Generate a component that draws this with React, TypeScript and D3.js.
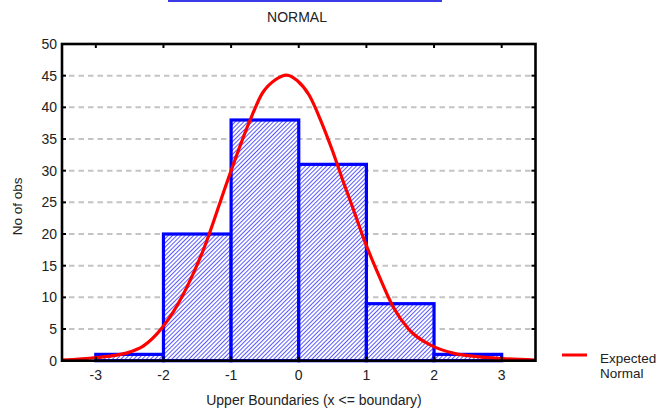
import React from "react";
import * as d3 from "d3";

const binStarts = [-3, -2, -1, 0, 1, 2];
const binEnds = [-2, -1, 0, 1, 2, 3];
const counts = [1, 20, 38, 31, 9, 1];

const curveX = [-3.5, -3.0, -2.55, -2.3, -2.02, -1.85, -1.65, -1.41, -1.05, -0.73, -0.54, -0.34, -0.18, -0.02, 0.155, 0.33, 0.5, 0.65, 0.8, 0.97, 1.19, 1.39, 1.63, 1.98, 2.28, 2.67, 3.06, 3.5];
const curveY = [0.1, 0.5, 1.2, 2.3, 5.2, 7.8, 11.7, 17.5, 28.5, 37.7, 42.2, 44.4, 45.1, 44.2, 41.9, 37.8, 33.1, 28.5, 24.1, 19.0, 13.3, 8.6, 4.9, 2.3, 1.2, 0.6, 0.3, 0.1];

const xTicks = [-3, -2, -1, 0, 1, 2, 3];
const yTicks = [0, 5, 10, 15, 20, 25, 30, 35, 40, 45, 50];

const title = "NORMAL";
const xTitle = "Upper Boundaries (x <= boundary)";
const yTitle = "No of obs";
const legendLines = ["Expected", "Normal"];

const W = 663, H = 411;
const L = 62, R = 535.5, T = 44, B = 360.7;
const FONT = "'Liberation Sans', Arial, sans-serif";

export default function App() {
  const x = d3.scaleLinear().domain([-3.5, 3.5]).range([L, R]);
  const y = d3.scaleLinear().domain([0, 50]).range([B, T]);
  const pts: [number, number][] = curveX.map((v, i) => [v, curveY[i]]);
  const line = d3.line<[number, number]>().x(d => x(d[0])).y(d => y(d[1])).curve(d3.curveMonotoneX);
  const tickLen = 4;
  return (
    <svg width={W} height={H} style={{ position: "absolute", left: 0, top: 0, background: "#fff" }} fontFamily={FONT}>
      <defs>
        <pattern id="hatch" width={3} height={3} patternUnits="userSpaceOnUse" patternTransform="rotate(45)">
          <rect width={3} height={3} fill="#ffffff" />
          <line x1={0.5} y1={0} x2={0.5} y2={3} stroke="#5a5aff" strokeWidth={1} />
        </pattern>
        <clipPath id="plotclip">
          <rect x={L} y={T} width={R - L} height={B - T} />
        </clipPath>
      </defs>
      <rect x={168} y={0} width={274} height={2} fill="#3a3ae6" />
      <text x={297} y={22} textAnchor="middle" fontSize={14} fill="#222">{title}</text>

      {yTicks.filter(t => t > 0 && t < 50).map(t => (
        <line key={"g" + t} x1={L + 7} x2={R - 4} y1={y(t)} y2={y(t)} stroke="#c4c4c4" strokeWidth={2} strokeDasharray="5.5,4" />
      ))}

      {counts.map((c, i) => (
        <rect key={"b" + i} x={x(binStarts[i])} y={y(c)} width={x(binEnds[i]) - x(binStarts[i])} height={y(0) - y(c)}
          fill="url(#hatch)" stroke="#0000ff" strokeWidth={3.2} />
      ))}

      <g clipPath="url(#plotclip)">
        <path d={line(pts) || ""} fill="none" stroke="#ff0000" strokeWidth={3.2} strokeLinejoin="round" />
      </g>

      <rect x={L} y={T} width={R - L} height={B - T} fill="none" stroke="#000" strokeWidth={2.6} />

      {yTicks.map(t => (
        <g key={"y" + t}>
          <line x1={L} x2={L + tickLen} y1={y(t)} y2={y(t)} stroke="#000" strokeWidth={2} />
          <line x1={R} x2={R - tickLen} y1={y(t)} y2={y(t)} stroke="#000" strokeWidth={2} />
          <text x={57} y={y(t)} dy="0.36em" textAnchor="end" fontSize={14} fill="#222">{t}</text>
        </g>
      ))}
      {xTicks.map(t => (
        <g key={"x" + t}>
          <line x1={x(t)} x2={x(t)} y1={B} y2={B - tickLen} stroke="#000" strokeWidth={2} />
          <line x1={x(t)} x2={x(t)} y1={T} y2={T + tickLen} stroke="#000" strokeWidth={2} />
          <text x={x(t)} y={380} textAnchor="middle" fontSize={14} fill="#222">{t}</text>
        </g>
      ))}

      <text x={314} y={405} textAnchor="middle" fontSize={14} fill="#222">{xTitle}</text>
      <text transform={`translate(22,${(T + B) / 2 + 4}) rotate(-90)`} textAnchor="middle" fontSize={13.5} fill="#222">{yTitle}</text>

      <line x1={562} x2={587} y1={355} y2={355} stroke="#ff0000" strokeWidth={3} />
      {legendLines.map((s, i) => (
        <text key={s} x={600} y={363 + i * 14.5} fontSize={13.5} fill="#222">{s}</text>
      ))}
    </svg>
  );
}
